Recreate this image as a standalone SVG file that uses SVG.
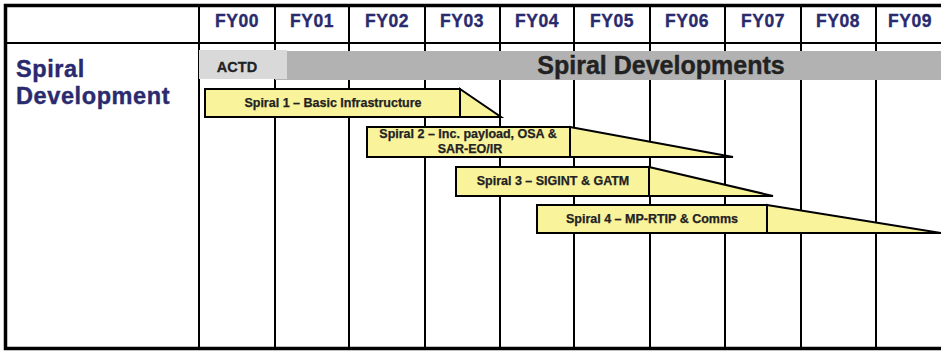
<svg xmlns="http://www.w3.org/2000/svg" width="941" height="352" viewBox="0 0 941 352">
<style>
.grid{stroke:#000;stroke-width:2;fill:none}
.hdr{font-family:"Liberation Sans",Arial,sans-serif;font-weight:bold;font-size:17.5px;fill:#2a2a6e;stroke:#2a2a6e;stroke-width:0.35px;text-anchor:middle;letter-spacing:0.6px}
.bar{fill:#f9f39c;stroke:#000;stroke-width:2;stroke-linejoin:miter}
.lbl{font-family:"Liberation Sans",Arial,sans-serif;font-weight:bold;font-size:12.5px;fill:#222;stroke:#222;stroke-width:0.25px;text-anchor:middle}
.big{font-family:"Liberation Sans",Arial,sans-serif;font-weight:bold}
</style>
<rect x="0" y="0" width="941" height="352" fill="#fff"/>
<g id="grid">
<line class="grid" x1="199" y1="5" x2="199" y2="349"/>
<line class="grid" x1="275" y1="5" x2="275" y2="349"/>
<line class="grid" x1="349" y1="5" x2="349" y2="349"/>
<line class="grid" x1="425" y1="5" x2="425" y2="349"/>
<line class="grid" x1="500" y1="5" x2="500" y2="349"/>
<line class="grid" x1="574" y1="5" x2="574" y2="349"/>
<line class="grid" x1="650" y1="5" x2="650" y2="349"/>
<line class="grid" x1="725" y1="5" x2="725" y2="349"/>
<line class="grid" x1="801" y1="5" x2="801" y2="349"/>
<line class="grid" x1="876" y1="5" x2="876" y2="349"/>
<line class="grid" x1="5" y1="43" x2="941" y2="43"/>
<path d="M941 5.5 H5.5 V348.5 H941" fill="none" stroke="#000" stroke-width="3.5"/>
</g>
<g id="headers">
<text class="hdr" x="237" y="27">FY00</text>
<text class="hdr" x="312" y="27">FY01</text>
<text class="hdr" x="387" y="27">FY02</text>
<text class="hdr" x="462" y="27">FY03</text>
<text class="hdr" x="537" y="27">FY04</text>
<text class="hdr" x="612" y="27">FY05</text>
<text class="hdr" x="687" y="27">FY06</text>
<text class="hdr" x="763" y="27">FY07</text>
<text class="hdr" x="838" y="27">FY08</text>
<text class="hdr" x="910" y="27">FY09</text>
</g>
<g id="row-label">
<text class="big" font-size="23.5" fill="#2a2a6e" stroke="#2a2a6e" stroke-width="0.4" letter-spacing="0.6">
<tspan x="16" y="77">Spiral</tspan><tspan x="16" y="104">Development</tspan></text>
</g>
<g id="spiral-developments">
<rect x="275" y="51" width="666" height="29" fill="#b2b2b2"/>
<text class="big" x="661" y="74" font-size="25" fill="#222" stroke="#222" stroke-width="0.4" text-anchor="middle">Spiral Developments</text>
</g>
<g id="actd">
<rect x="199" y="50" width="88" height="29" fill="#d9d9d9"/>
<text class="big" x="237" y="72" font-size="14.5" fill="#222" stroke="#222" stroke-width="0.3" text-anchor="middle">ACTD</text>
</g>
<g id="spiral1">
<polygon class="bar" points="460,89 501,117 460,117"/>
<rect class="bar" x="205" y="89" width="255" height="28"/>
<text class="lbl" x="333" y="107">Spiral 1 – Basic Infrastructure</text>
</g>
<g id="spiral2">
<polygon class="bar" points="570,127 733,157 570,157"/>
<rect class="bar" x="367" y="127" width="203" height="30"/>
<text class="lbl" x="468" y="138">Spiral 2 – Inc. payload, OSA &amp;</text>
<text class="lbl" x="470" y="153">SAR-EO/IR</text>
</g>
<g id="spiral3">
<polygon class="bar" points="649,167 773,196 649,196"/>
<rect class="bar" x="456" y="167" width="193" height="29"/>
<text class="lbl" x="553" y="185">Spiral 3 – SIGINT &amp; GATM</text>
</g>
<g id="spiral4">
<polygon class="bar" points="767,205 941,233 767,233"/>
<rect class="bar" x="537" y="205" width="230" height="28"/>
<text class="lbl" x="652" y="223">Spiral 4 – MP-RTIP &amp; Comms</text>
</g>
</svg>
